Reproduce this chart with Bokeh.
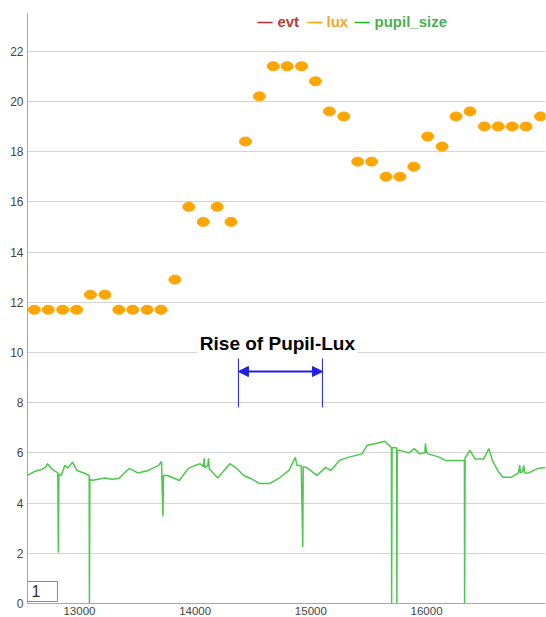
from bokeh.plotting import figure
from bokeh.models import Range1d, Label, Arrow, NormalHead, BoxAnnotation, FixedTicker, ColumnDataSource, BasicTickFormatter
from bokeh.embed import file_html
from bokeh.resources import INLINE

# ---- data ----
lux_t = [12610, 12730, 12855, 12975, 13095, 13220, 13340, 13460, 13585, 13705,
         13825, 13945, 14070, 14190, 14310, 14435, 14555, 14675, 14795, 14920,
         15040, 15160, 15285, 15405, 15525, 15650, 15770, 15890, 16010, 16135,
         16255, 16375, 16500, 16620, 16740, 16860, 16985]
lux_v = [11.7, 11.7, 11.7, 11.7, 12.3, 12.3, 11.7, 11.7, 11.7, 11.7,
         12.9, 15.8, 15.2, 15.8, 15.2, 18.4, 20.2, 21.4, 21.4, 21.4,
         20.8, 19.6, 19.4, 17.6, 17.6, 17.0, 17.0, 17.4, 18.6, 18.2,
         19.4, 19.6, 19.0, 19.0, 19.0, 19.0, 19.4]

pupil_t = [12551, 12618, 12680, 12708, 12723, 12768, 12813, 12818, 12822, 12843,
           12873, 12900, 12940, 12978, 13038, 13084, 13086, 13090, 13105, 13160,
           13219, 13280, 13339, 13430, 13504, 13595, 13685, 13709, 13722, 13726,
           13760, 13864, 13940, 14000, 14045, 14070, 14078, 14084, 14110, 14116,
           14122, 14135, 14195, 14300, 14360, 14420, 14480, 14556, 14646, 14721,
           14811, 14866, 14880, 14917, 14930, 14934, 14962, 15052, 15127, 15172,
           15247, 15322, 15442, 15487, 15563, 15638, 15677, 15696, 15698, 15702,
           15741, 15743, 15747, 15773, 15848, 15894, 15939, 15985, 15990, 16000,
           16014, 16104, 16163, 16254, 16314, 16327, 16329, 16333, 16374, 16419,
           16494, 16539, 16569, 16614, 16659, 16734, 16795, 16805, 16812, 16830,
           16840, 16848, 16885, 16961, 17028]
pupil_v = [5.10, 5.27, 5.35, 5.43, 5.57, 5.33, 5.20, 2.03, 5.15, 5.10,
           5.50, 5.40, 5.63, 5.30, 5.20, 5.10, 0.00, 4.95, 4.90, 4.95,
           5.00, 4.95, 4.98, 5.38, 5.20, 5.30, 5.50, 5.66, 3.47, 5.10,
           5.10, 4.90, 5.38, 5.50, 5.57, 5.45, 5.78, 5.40, 5.50, 5.78,
           5.35, 5.30, 5.00, 5.57, 5.38, 5.10, 4.98, 4.78, 4.78, 4.98,
           5.30, 5.82, 5.50, 5.50, 2.24, 5.45, 5.42, 5.10, 5.42, 5.30,
           5.70, 5.82, 5.96, 6.30, 6.37, 6.46, 6.30, 6.20, 0.00, 6.20,
           6.20, 0.00, 6.10, 6.10, 6.00, 6.17, 5.96, 6.00, 6.37, 6.00,
           5.96, 5.84, 5.70, 5.70, 5.70, 5.70, 0.00, 5.80, 6.10, 5.76,
           5.76, 6.17, 5.70, 5.30, 5.03, 5.03, 5.20, 5.50, 5.20, 5.25,
           5.50, 5.20, 5.20, 5.38, 5.42]

x_ticks = [13000, 14000, 15000, 16000]
y_ticks = [0, 2, 4, 6, 8, 10, 12, 14, 16, 18, 20, 22]
series_names = ["evt", "lux", "pupil_size"]
annotation_text = "Rise of Pupil-Lux"
page_label = "1"

# ---- styling ----
FONT = "Liberation Sans"
LUX_C = "#FFA500"
PUPIL_C = "#4CC84C"
BLUE = "#2020E0"

p = figure(width=546, height=617, x_range=Range1d(12551, 17028), y_range=Range1d(0, 23.5),
           output_backend="svg", toolbar_location=None,
           min_border_left=27, min_border_right=1, min_border_top=13, min_border_bottom=0)
p.outline_line_color = None
p.background_fill_color = "white"
p.border_fill_color = "white"
p.xgrid.visible = False
p.ygrid.grid_line_color = "#D4D4D4"
p.ygrid.grid_line_width = 1

p.xaxis.ticker = FixedTicker(ticks=x_ticks)
p.yaxis.ticker = FixedTicker(ticks=y_ticks)
p.xaxis.formatter = BasicTickFormatter(use_scientific=False)
for ax in (p.xaxis, p.yaxis):
    ax.major_tick_line_color = None
    ax.minor_tick_line_color = None
    ax.major_tick_out = 0
    ax.axis_line_color = "#A4A8AE"
    ax.major_label_text_color = "#444444"
    ax.major_label_text_font = FONT
p.yaxis.major_label_text_font_size = "12px"
p.xaxis.major_label_text_font_size = "11.5px"
p.yaxis.major_label_standoff = 4
p.xaxis.major_label_standoff = 3

src_p = ColumnDataSource(dict(t=pupil_t, v=pupil_v))
p.line("t", "v", source=src_p, line_color=PUPIL_C, line_width=1.5)

src_l = ColumnDataSource(dict(t=lux_t, v=lux_v))
p.ellipse("t", "v", source=src_l, width=12, height=9, width_units="screen",
          height_units="screen", fill_color=LUX_C, line_color=LUX_C)

# legend (custom, coloured texts)
leg = [("—", 14538, "#C8283C"), ("evt", 14711, "#B04040"),
       ("—", 14971, "#FFA500"), ("lux", 15135, "#F5A623"),
       ("—", 15377, "#22BB22"), ("pupil_size", 15550, "#4CAF50")]
for txt, xx, col in leg:
    p.add_layout(Label(x=xx, y=23.2, text=txt, text_color=col, text_font=FONT,
                       text_font_size="15px", text_font_style="bold",
                       text_baseline="middle", text_align="left"))

# annotation
p.add_layout(Label(x=14711, y=10.36, text=annotation_text, text_align="center",
                   text_baseline="middle", text_font=FONT, text_font_size="19px",
                   text_font_style="bold", text_color="black",
                   background_fill_color="white", padding=3))
for xx in (14374, 15100):
    p.add_layout(Arrow(end=None, x_start=xx, y_start=9.76, x_end=xx, y_end=7.81,
                       line_color=BLUE, line_width=1))
p.add_layout(Arrow(start=NormalHead(size=10, fill_color=BLUE, line_color=BLUE),
                   end=NormalHead(size=10, fill_color=BLUE, line_color=BLUE),
                   x_start=14374, y_start=9.24, x_end=15100, y_end=9.24,
                   line_color=BLUE, line_width=2))

# page box
p.add_layout(BoxAnnotation(left=12551, right=12810, bottom=0.08, top=0.876,
                           fill_color="white", fill_alpha=1, line_color="#888888",
                           line_width=1, line_alpha=1))
p.add_layout(Label(x=12586, y=0.49, text=page_label, text_baseline="middle",
                   text_font=FONT, text_font_size="16px", text_color="#333333"))

open("out.html", "w").write(file_html(p, INLINE))
